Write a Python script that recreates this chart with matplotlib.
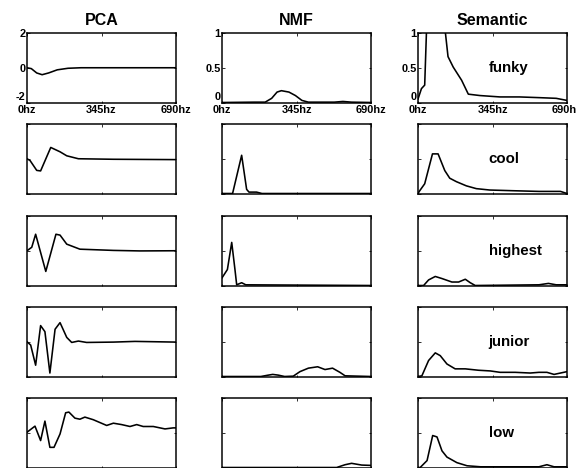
import matplotlib
matplotlib.use("Agg")
import matplotlib.pyplot as plt

plt.rcParams['font.family'] = ['Liberation Sans', 'DejaVu Sans']

column_titles = ["PCA", "NMF", "Semantic"]
words = ["funky", "cool", "highest", "junior", "low"]
freq_ticks = [0, 345, 690]
freq_tick_labels = ["0hz", "345hz", "690hz"]
pca_yticks = [-2, 0, 2]
pca_ytick_labels = ["-2", "0", "2"]
unit_yticks = [0, 0.5, 1]
unit_ytick_labels = ["0", "0.5", "1"]

# --- PCA basis functions ---
pca_funky_hz = [0, 20, 45, 70, 100, 140, 190, 250, 690]
pca_funky_val = [0, -0.05, -0.3, -0.4, -0.3, -0.12, -0.03, 0, 0]

pca_cool_hz = [0, 14, 45, 63, 110, 153, 184, 238, 400, 690]
pca_cool_val = [0, -0.1, -0.67, -0.7, 0.65, 0.4, 0.17, 0.0, -0.03, -0.05]

pca_highest_hz = [0, 22, 40, 87, 134, 153, 184, 245, 400, 523, 690]
pca_highest_val = [0, 0.2, 0.95, -1.19, 0.95, 0.9, 0.38, 0.09, 0.02, -0.01, 0]

pca_junior_hz = [0, 17, 40, 63, 83, 106, 130, 153, 184, 207, 238, 276, 400, 500, 690]
pca_junior_val = [0, -0.19, -1.35, 0.93, 0.58, -1.8, 0.72, 1.1, 0.25, -0.04, 0.04,
                  -0.04, -0.02, 0.02, -0.02]

pca_low_hz = [0, 37, 63, 83, 106, 125, 153, 179, 194, 222, 245, 268, 307, 369, 400,
              438, 477, 508, 538, 585, 639, 677, 690]
pca_low_val = [0.03, 0.38, -0.45, 0.67, -0.84, -0.84, -0.07, 1.15, 1.19, 0.84, 0.78,
               0.9, 0.75, 0.42, 0.55, 0.47, 0.36, 0.47, 0.36, 0.36, 0.22, 0.28, 0.28]

# --- NMF basis functions ---
nmf_funky_hz = [0, 150, 200, 230, 255, 275, 310, 340, 370, 400, 520, 560, 600, 690]
nmf_funky_val = [0, 0.005, 0.005, 0.06, 0.15, 0.17, 0.15, 0.1, 0.03, 0.005, 0.005,
                 0.015, 0.005, 0]

nmf_cool_hz = [0, 49, 91, 114, 125, 160, 185, 690]
nmf_cool_val = [0, 0, 0.55, 0.06, 0.02, 0.02, 0, 0]

nmf_highest_hz = [0, 25, 45, 60, 68, 91, 110, 690]
nmf_highest_val = [0.11, 0.23, 0.62, 0.23, 0.01, 0.04, 0.01, 0]

nmf_junior_hz = [0, 180, 215, 235, 260, 290, 330, 361, 400, 443, 477, 512, 546, 570, 690]
nmf_junior_val = [0, 0, 0.02, 0.03, 0.02, 0, 0.005, 0.07, 0.12, 0.14, 0.1, 0.12,
                  0.06, 0.01, 0]

nmf_low_hz = [0, 531, 570, 600, 647, 690]
nmf_low_val = [0, 0, 0.04, 0.06, 0.035, 0.03]

# --- Semantic basis functions ---
sem_funky_hz = [0, 16, 31, 39, 60, 100, 127, 139, 163, 202, 233, 287, 380, 470, 560, 640, 690]
sem_funky_val = [0.05, 0.2, 0.25, 1.0, 1.5, 1.5, 1.0, 0.66, 0.51, 0.32, 0.12, 0.1,
                 0.08, 0.08, 0.07, 0.06, 0.03]

sem_cool_hz = [0, 8, 31, 67, 93, 124, 147, 178, 224, 270, 332, 440, 560, 660, 690]
sem_cool_val = [0, 0.04, 0.14, 0.57, 0.57, 0.33, 0.22, 0.17, 0.11, 0.07, 0.05, 0.04,
                0.03, 0.03, 0.0]

sem_highest_hz = [0, 26, 49, 80, 111, 157, 188, 219, 242, 265, 560, 604, 640, 690]
sem_highest_val = [0, 0, 0.08, 0.13, 0.1, 0.05, 0.05, 0.09, 0.04, 0, 0.01, 0.03, 0.01, 0.01]

sem_junior_hz = [0, 18, 49, 80, 103, 134, 172, 219, 280, 335, 380, 450, 520, 560, 597,
                 630, 660, 690]
sem_junior_val = [0, 0.01, 0.23, 0.34, 0.3, 0.18, 0.11, 0.11, 0.09, 0.08, 0.06, 0.06,
                  0.05, 0.06, 0.06, 0.03, 0.05, 0.07]

sem_low_hz = [0, 10, 42, 68, 88, 111, 134, 180, 227, 290, 560, 597, 630, 690]
sem_low_val = [0, 0, 0.1, 0.46, 0.44, 0.24, 0.15, 0.07, 0.025, 0.01, 0.01, 0.04, 0.01, 0.01]

curves = [
    [(pca_funky_hz, pca_funky_val), (nmf_funky_hz, nmf_funky_val), (sem_funky_hz, sem_funky_val)],
    [(pca_cool_hz, pca_cool_val), (nmf_cool_hz, nmf_cool_val), (sem_cool_hz, sem_cool_val)],
    [(pca_highest_hz, pca_highest_val), (nmf_highest_hz, nmf_highest_val), (sem_highest_hz, sem_highest_val)],
    [(pca_junior_hz, pca_junior_val), (nmf_junior_hz, nmf_junior_val), (sem_junior_hz, sem_junior_val)],
    [(pca_low_hz, pca_low_val), (nmf_low_hz, nmf_low_val), (sem_low_hz, sem_low_val)],
]

W, H = 576, 468
fig = plt.figure(figsize=(W / 72, H / 72), dpi=72)

col_left = [27, 222, 418]
col_width = 149
row_top = [33, 124, 216, 307, 398]
row_height = 69.5

for r in range(5):
    for c in range(3):
        left = col_left[c] / W
        bottom = 1 - (row_top[r] + row_height) / H
        ax = fig.add_axes([left, bottom, col_width / W, row_height / H])
        hz, val = curves[r][c]
        ax.plot(hz, val, color="black", lw=1.6, solid_joinstyle="round")
        ax.set_xlim(0, 690)
        if c == 0:
            ax.set_ylim(-2, 2)
            yt, ytl = pca_yticks, pca_ytick_labels
        else:
            ax.set_ylim(0, 1)
            yt, ytl = unit_yticks, unit_ytick_labels
        for s in ax.spines.values():
            s.set_linewidth(1.5)
        ax.set_xticks(freq_ticks)
        ax.set_yticks(yt)
        ax.tick_params(direction="in", length=2.5, width=0.8, top=True, right=True,
                       labelsize=11, pad=1.5)
        if r == 0:
            ax.set_xticklabels(freq_tick_labels, fontweight="bold")
            ax.tick_params(axis="x", pad=2.5)
            ylabels = ax.set_yticklabels(ytl, fontweight="bold")
            # lowest label sits just above the frequency labels
            ylabels[0].set_verticalalignment("bottom")
            ax.set_title(column_titles[c], fontsize=16, fontweight="bold", pad=8)
        else:
            ax.set_xticklabels([])
            ax.set_yticklabels([])
        if c == 2:
            ax.text(0.475, 0.49, words[r], transform=ax.transAxes, ha="left",
                    va="center", fontsize=15, fontweight="bold")

fig.savefig("out.png", dpi=72)
